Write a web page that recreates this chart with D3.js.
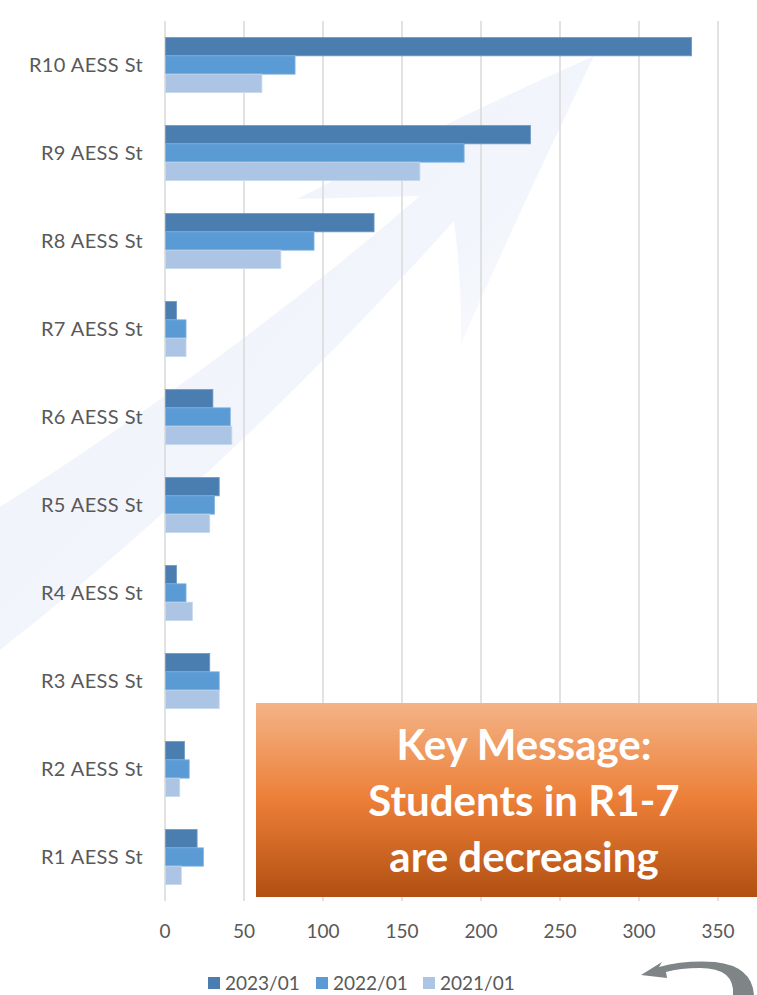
<!DOCTYPE html>
<html>
<head>
<meta charset="utf-8">
<script src="https://cdn.jsdelivr.net/npm/d3@7"></script>
<style>
  html, body { margin: 0; padding: 0; background: #ffffff; }
  svg { display: block; }
</style>
</head>
<body>
<svg id="chart" width="757" height="995"></svg>
<script>
// ---- data ----
const categories = ["R10 AESS St", "R9 AESS St", "R8 AESS St", "R7 AESS St", "R6 AESS St",
                    "R5 AESS St", "R4 AESS St", "R3 AESS St", "R2 AESS St", "R1 AESS St"];
const seriesNames = ["2023/01", "2022/01", "2021/01"];
const values2023 = [333, 231, 132, 7, 30, 34, 7, 28, 12, 20];
const values2022 = [82, 189, 94, 13, 41, 31, 13, 34, 15, 24];
const values2021 = [61, 161, 73, 13, 42, 28, 17, 34, 9, 10];
const xTicks = [0, 50, 100, 150, 200, 250, 300, 350];
const messageLines = ["Key Message:", "Students in R1-7", "are decreasing"];

const seriesValues = [values2023, values2022, values2021];
const colors = ["#4a7eb0", "#5b9bd5", "#adc5e5"];
const strokes = ["#6f99c4", "#82b3e0", "#c6d7ee"];

const svg = d3.select("#chart");
const defs = svg.append("defs");

// ---- background decorative arrow ----
const bgGrad = defs.append("linearGradient").attr("id", "bgArrow")
  .attr("x1", "0").attr("y1", "0").attr("x2", "1").attr("y2", "1");
bgGrad.append("stop").attr("offset", "0%").attr("stop-color", "#eff3fa");
bgGrad.append("stop").attr("offset", "55%").attr("stop-color", "#f2f5fb");
bgGrad.append("stop").attr("offset", "78%").attr("stop-color", "#ffffff");

const arrowPath = d3.path();
arrowPath.moveTo(0, 507);
arrowPath.quadraticCurveTo(230, 360, 420, 196);
arrowPath.lineTo(297, 199);
arrowPath.quadraticCurveTo(450, 120, 594, 56);
arrowPath.quadraticCurveTo(520, 210, 461, 344);
arrowPath.quadraticCurveTo(462, 280, 454, 221);
arrowPath.quadraticCurveTo(230, 470, 0, 650);
arrowPath.closePath();
svg.append("path").attr("d", arrowPath.toString()).attr("fill", "url(#bgArrow)");

// ---- scales ----
const x = d3.scaleLinear().domain([0, 350]).range([165, 718]);
const y = d3.scaleBand().domain(categories).range([21, 901])
  .paddingInner(0.375).paddingOuter(0.1875);
const ySub = d3.scaleBand().domain(seriesNames).range([0, y.bandwidth()]);

// ---- gridlines ----
svg.append("g").selectAll("line").data(xTicks).join("line")
  .attr("x1", d => x(d)).attr("x2", d => x(d))
  .attr("y1", 21).attr("y2", 901)
  .attr("stroke", "#d9d9d9").attr("stroke-width", 1.5);

// ---- bars ----
const rows = [];
categories.forEach((c, i) => {
  seriesNames.forEach((s, j) => rows.push({ cat: c, s: s, j: j, v: seriesValues[j][i] }));
});
svg.append("g").selectAll("rect").data(rows).join("rect")
  .attr("x", x(0) + 0.5)
  .attr("y", d => y(d.cat) + ySub(d.s))
  .attr("width", d => x(d.v) - x(0))
  .attr("height", ySub.bandwidth())
  .attr("fill", d => colors[d.j])
  .attr("stroke", d => strokes[d.j])
  .attr("stroke-width", 0.8);

// ---- y labels ----
svg.append("g").selectAll("text").data(categories).join("text")
  .attr("x", 143)
  .attr("y", d => y(d) + y.bandwidth() / 2)
  .attr("dy", "0.35em")
  .attr("text-anchor", "end")
  .attr("font-family", "Lato, sans-serif")
  .attr("font-size", 20)
  .attr("letter-spacing", 0.4)
  .attr("fill", "#595959")
  .text(d => d);

// ---- x tick labels ----
svg.append("g").selectAll("text").data(xTicks).join("text")
  .attr("x", d => x(d))
  .attr("y", 938)
  .attr("text-anchor", "middle")
  .attr("font-family", "Lato, sans-serif")
  .attr("font-size", 19)
  .attr("fill", "#595959")
  .text(d => d);

// ---- key message box ----
const boxGrad = defs.append("linearGradient").attr("id", "boxGrad")
  .attr("x1", "0").attr("y1", "0").attr("x2", "0").attr("y2", "1");
boxGrad.append("stop").attr("offset", "0%").attr("stop-color", "#f4b387");
boxGrad.append("stop").attr("offset", "50%").attr("stop-color", "#ec7f37");
boxGrad.append("stop").attr("offset", "100%").attr("stop-color", "#b14f12");
svg.append("rect").attr("x", 256).attr("y", 703).attr("width", 501).attr("height", 194)
  .attr("fill", "url(#boxGrad)");
svg.append("g").selectAll("text").data(messageLines).join("text")
  .attr("x", 524)
  .attr("y", (d, i) => 760 + i * 56)
  .attr("text-anchor", "middle")
  .attr("font-family", "Lato, sans-serif")
  .attr("font-weight", "bold")
  .attr("font-size", 42)
  .attr("fill", "#ffffff")
  .text(d => d);

// ---- legend ----
const legendX = [208, 316, 423];
const lg = svg.append("g").selectAll("g").data(seriesNames).join("g")
  .attr("transform", (d, i) => `translate(${legendX[i]},977)`);
lg.append("rect").attr("width", 12).attr("height", 12).attr("fill", (d, i) => colors[i]);
lg.append("text").attr("x", 17).attr("y", 13)
  .attr("font-family", "Lato, sans-serif").attr("font-size", 19)
  .attr("fill", "#595959").text(d => d);

// ---- curved grey arrow (bottom right) ----
const ca = d3.path();
ca.moveTo(733, 995);
ca.quadraticCurveTo(735, 968, 700, 968);
ca.quadraticCurveTo(680, 968, 666, 972);
ca.lineTo(667, 978);
ca.lineTo(641, 975);
ca.lineTo(662, 962);
ca.lineTo(659, 967);
ca.quadraticCurveTo(685, 960, 715, 962);
ca.quadraticCurveTo(752, 966, 754, 995);
ca.closePath();
svg.append("path").attr("d", ca.toString()).attr("fill", "#7f8487");
</script>
</body>
</html>
